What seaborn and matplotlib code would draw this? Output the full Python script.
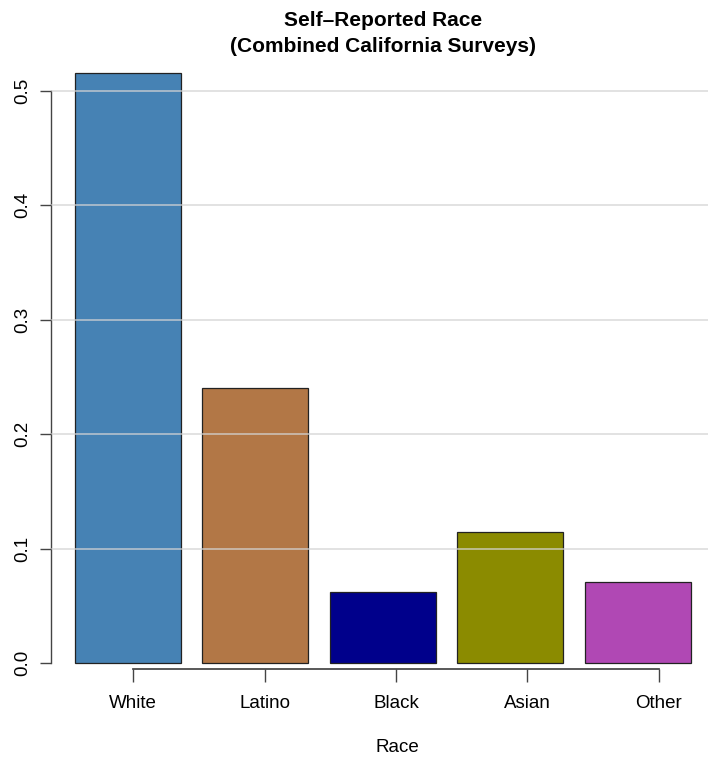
import matplotlib
matplotlib.use("Agg")
import matplotlib.pyplot as plt
import seaborn as sns
import pandas as pd

races = ["White", "Latino", "Black", "Asian", "Other"]
shares = [0.515, 0.240, 0.062, 0.1145, 0.0708]
colors = ["#4682B4", "#B27746", "#00008B", "#8B8B00", "#B048B4"]
y_ticks = [0.0, 0.1, 0.2, 0.3, 0.4, 0.5]

df = pd.DataFrame({"Race": races, "Share": shares})

sns.set_theme(style="white")
plt.rcParams["font.family"] = ["Liberation Sans", "DejaVu Sans"]
plt.rcParams["text.color"] = "black"
plt.rcParams["xtick.labelcolor"] = "black"
plt.rcParams["ytick.labelcolor"] = "black"

W, H = 708, 761
fig = plt.figure(figsize=(W / 100, H / 100), dpi=100)

# plot region in pixels (R-style barplot)
left, right, bottom, top = 51, 708, 663, 70
pos = [left / W, 1 - bottom / H, (right - left) / W, (bottom - top) / H]
ax = fig.add_axes(pos)

sns.barplot(data=df, x="Race", y="Share", hue="Race", palette=colors,
            legend=False, width=0.832, edgecolor="#222222", linewidth=0.9,
            saturation=1, ax=ax)
ax.set_xlim(-0.604, 4.553)
ax.set_ylim(0, 0.518)

ax.set_yticks(y_ticks)
ax.set_yticklabels([f"{t:.1f}" for t in y_ticks], rotation=90, va="center")
ax.tick_params(axis="y", length=8, width=1, color="#444444", labelsize=13.5,
               pad=6, left=True)
ax.set_xticks([])
ax.set_xlabel("")
ax.set_ylabel("")

# light grid drawn on top of the bars
ax.yaxis.grid(True, color="#d3d3d3", linewidth=1.1, alpha=0.85)
ax.set_axisbelow(False)
ax.get_ygridlines()[0].set_visible(False)

for s in ["top", "right", "bottom"]:
    ax.spines[s].set_visible(False)
ax.spines["left"].set_bounds(0, 0.5)
ax.spines["left"].set_color("#444444")
ax.spines["left"].set_linewidth(1)
for sp in ax.spines.values():
    sp.set_clip_on(False)
for p in ax.patches:
    p.set_clip_on(False)

# separate category axis below, as R draws it
axx = fig.add_axes(pos, facecolor="none")
axx.set_xlim(-0.624, 4.373)
axx.set_xticks(range(len(races)))
axx.set_xticklabels(races)
axx.set_yticks([])
for s in ["top", "right", "left"]:
    axx.spines[s].set_visible(False)
axx.spines["bottom"].set_position(("outward", 4.5))
axx.spines["bottom"].set_bounds(0, len(races) - 1)
axx.spines["bottom"].set_color("#444444")
axx.tick_params(axis="x", length=9.5, width=1, color="#444444",
                labelsize=13.5, pad=9, bottom=True)

fig.text(383 / W, 1 - 20 / H, "Self–Reported Race", ha="center", va="center",
         fontsize=15, fontweight="bold")
fig.text(383 / W, 1 - 47 / H, "(Combined California Surveys)", ha="center",
         va="center", fontsize=15, fontweight="bold")
fig.text(397 / W, 1 - 748 / H, "Race", ha="center", va="center", fontsize=13.5)

fig.savefig("out.png", dpi=100)
